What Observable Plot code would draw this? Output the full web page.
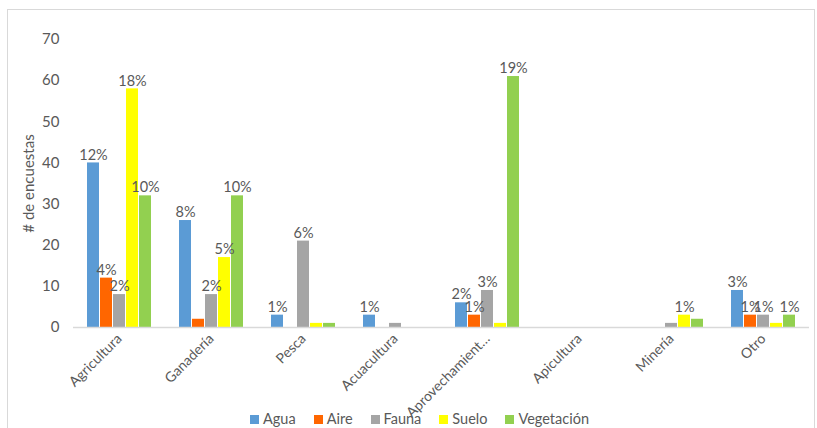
<!DOCTYPE html>
<html><head><meta charset="utf-8">
<script src="https://cdn.jsdelivr.net/npm/d3@7"></script>
<script src="https://cdn.jsdelivr.net/npm/@observablehq/plot@0.6"></script>
<style>
body{margin:0;background:#fff;font-family:Lato,"Open Sans",sans-serif;}
#wrap{position:relative;width:817px;height:428px;overflow:hidden;background:#fff;}
#border{position:absolute;left:7px;top:9px;width:806px;height:440px;border:1px solid #d9d9d9;pointer-events:none;}
#chart{position:absolute;left:0;top:0;}
#legend{position:absolute;top:411px;left:0;width:817px;display:flex;justify-content:center;font-size:14.5px;color:#595959;line-height:16px;padding-left:40px;box-sizing:border-box;}
#legend .it{display:flex;align-items:center;margin-right:18px;}
#legend .sw{width:9px;height:9px;margin-right:4px;display:inline-block;}
</style>
</head><body>
<div id="wrap"><div id="chart"></div><div id="legend"></div><div id="border"></div></div>
<script>
const categories = ["Agricultura","Ganadería","Pesca","Acuacultura","Aprovechamient…","Apicultura","Minería","Otro"];
const series = ["Agua","Aire","Fauna","Suelo","Vegetación"];
const colors = ["#5b9bd5","#ff6600","#a5a5a5","#ffff00","#92d050"];
const agua = [40,26,3,3,6,0,0,9];
const aire = [12,2,0,0,3,0,0,3];
const fauna = [8,8,21,1,9,0,1,3];
const suelo = [58,17,1,0,1,0,3,1];
const vegetacion = [32,32,1,0,61,0,2,3];
const aguaLbl = ["12%","8%","1%","1%","2%",null,null,"3%"];
const aireLbl = ["4%",null,null,null,"1%",null,null,"1%"];
const faunaLbl = ["2%","2%","6%",null,"3%",null,null,"1%"];
const sueloLbl = ["18%","5%",null,null,null,null,"1%",null];
const vegLbl = ["10%","10%",null,null,"19%",null,null,"1%"];
const yTicks = [0,10,20,30,40,50,60,70];

const vals = [agua, aire, fauna, suelo, vegetacion];
const lbls = [aguaLbl, aireLbl, faunaLbl, sueloLbl, vegLbl];
const data = [];
categories.forEach((c, i) => series.forEach((s, j) => data.push({cat: c, series: s, value: vals[j][i], label: lbls[j][i]})));

const plot = Plot.plot({
  width: 817, height: 428,
  marginLeft: 72, marginRight: 7, marginTop: 39, marginBottom: 101,
  style: {fontFamily: "Lato, 'Open Sans', sans-serif", color: "#595959", background: "transparent"},
  fx: {domain: categories, padding: 0, label: null, tickRotate: -45, tickSize: 0, tickPadding: 9},
  x: {domain: series, axis: null, paddingInner: 0.1, paddingOuter: 0.87},
  y: {domain: [0, 70], ticks: yTicks, tickSize: 0, tickPadding: 14, label: "# de encuestas", labelAnchor: "center", labelArrow: "none", labelOffset: 50},
  color: {domain: series, range: colors},
  marks: [
    Plot.barY(data, {fx: "cat", x: "series", y: "value", fill: "series", inset: 0}),
    Plot.ruleY([0], {stroke: "#d9d9d9", strokeWidth: 1.5}),
    Plot.text(data.filter(d => d.label), {fx: "cat", x: "series", y: "value", text: "label", dy: -8, fill: "#595959", fontSize: 14.5})
  ]
});
document.getElementById("chart").appendChild(plot);
d3.select(plot).selectAll("g[aria-label='y-axis tick label'] text, g[aria-label='y-axis label'] text").style("font-size", "15px");
d3.select(plot).selectAll("g[aria-label='fx-axis tick label'] text").style("font-size", "14px");

const leg = document.getElementById("legend");
series.forEach((s, j) => {
  const it = document.createElement("span"); it.className = "it";
  const sw = document.createElement("span"); sw.className = "sw"; sw.style.background = colors[j];
  it.appendChild(sw); it.appendChild(document.createTextNode(s));
  leg.appendChild(it);
});
</script>
</body></html>
